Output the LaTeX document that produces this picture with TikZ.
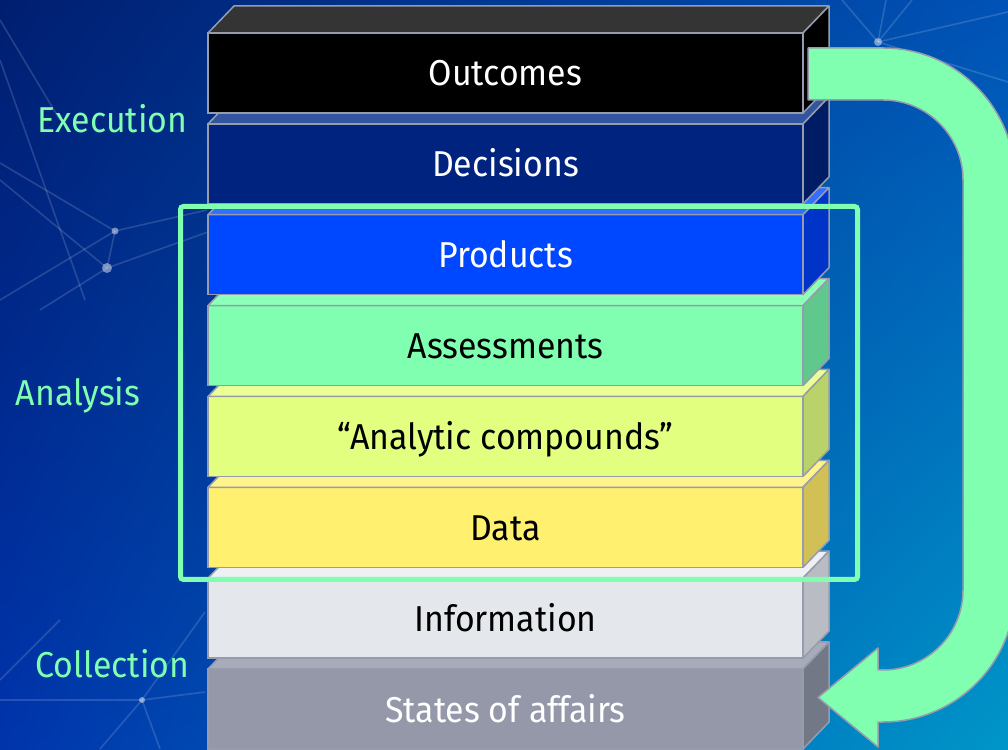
\documentclass[tikz,border=0pt]{standalone}
\usepackage{fontspec}
\usetikzlibrary{shadings}
\setmainfont{Fira Sans}[FakeStretch=0.94]
\definecolor{bgUL}{RGB}{0,30,112}
\definecolor{bgUR}{RGB}{0,82,182}
\definecolor{bgLL}{RGB}{0,52,172}
\definecolor{bgLR}{RGB}{0,150,200}
\definecolor{mint}{RGB}{128,255,176}
\definecolor{edgegrey}{RGB}{150,156,172}
\definecolor{outF}{RGB}{0,0,0}\definecolor{outT}{RGB}{52,52,52}\definecolor{outS}{RGB}{0,0,0}
\definecolor{decF}{RGB}{0,35,127}\definecolor{decT}{RGB}{50,85,160}\definecolor{decS}{RGB}{0,28,100}
\definecolor{proF}{RGB}{0,72,255}\definecolor{proT}{RGB}{50,110,255}\definecolor{proS}{RGB}{0,52,200}
\definecolor{assF}{RGB}{128,255,176}\definecolor{assT}{RGB}{140,255,185}\definecolor{assS}{RGB}{96,200,140}
\definecolor{anaF}{RGB}{226,255,128}\definecolor{anaT}{RGB}{234,255,150}\definecolor{anaS}{RGB}{185,210,105}
\definecolor{datF}{RGB}{255,240,112}\definecolor{datT}{RGB}{255,244,140}\definecolor{datS}{RGB}{208,192,85}
\definecolor{infF}{RGB}{228,231,236}\definecolor{infT}{RGB}{238,240,243}\definecolor{infS}{RGB}{185,188,195}
\definecolor{staF}{RGB}{148,152,168}\definecolor{staT}{RGB}{168,172,186}\definecolor{staS}{RGB}{115,120,135}
\tikzset{
  blockfront/.style={draw=edgegrey, line width=1.5pt, minimum width=595pt, minimum height=80pt,
    inner sep=0pt, outer sep=0pt, text height=26pt, text depth=0pt, font=\fontsize{36}{40}\selectfont},
  blockedge/.style={draw=edgegrey, line width=1.5pt, line join=round},
  sidelabel/.style={text=mint, anchor=base, font=\fontsize{36}{40}\selectfont, inner sep=0pt},
  netline/.style={draw=white, opacity=0.15, line width=1.6pt},
  netdot/.style={fill=white, opacity=0.45},
  analysisframe/.style={draw=mint, line width=5pt, rounded corners=3pt},
  bigarrow/.style={fill=mint, draw=edgegrey, line width=1.5pt, line join=round}
}
\newcommand\stackblock[7]{%
  \node[blockfront, fill=#3, text=#6] (#1) at (505.5,#2+40) {#7};
  \filldraw[blockedge, fill=#4] (#1.north west) -- ++(26,-27) -- ++(595,0) -- (#1.north east) -- cycle;
  \filldraw[blockedge, fill=#5] (#1.north east) -- ++(26,-27) -- ++(0,80) -- (#1.south east) -- cycle;
}
\begin{document}
\begin{tikzpicture}[x=1pt,y=1pt]
\useasboundingbox (0,0) rectangle (1008,749);
\shade[upper left=bgUL, upper right=bgUR, lower left=bgLL, lower right=bgLR] (0,0) rectangle (1008,749);
\begin{scope}[shift={(0,749)}, yscale=-1]
  % faint network
  \coordinate (na) at (878,42);
  \coordinate (nb) at (115,231);
  \coordinate (nc) at (107,268);
  \coordinate (nd) at (142,700);
  \draw[netline] (na) -- (842,0);
  \draw[netline] (na) -- (886,0);
  \draw[netline] (na) -- (912,0);
  \draw[netline] (na) -- (1008,12);
  \draw[netline] (na) -- (1008,82);
  \draw[netline] (0,163) -- (nb) -- (207,210);
  \draw[netline] (0,180) -- (nc) -- (208,232);
  \draw[netline] (0,60) -- (85,300);
  \draw[netline] (nb) -- (nc) -- (40,310);
  \draw[netline] (nb) -- (0,300);
  \draw[netline] (0,20) -- (60,120);
  \draw[netline] (205,612) -- (nd) -- (100,749);
  \draw[netline] (0,700) -- (nd) -- (205,692);
  \draw[netline] (nd) -- (160,749);
  \draw[netline] (60,620) -- (0,680);
  \fill[netdot] (na) circle (4);
  \fill[netdot] (nb) circle (3.5);
  \fill[netdot] (nc) circle (5);
  \fill[netdot] (nd) circle (3);
  % stack of blocks, bottom to top
  \stackblock{states}{669}{staF}{staT}{staS}{white}{States of affairs}
  \stackblock{information}{578.1}{infF}{infT}{infS}{black}{Information}
  \stackblock{data}{487.3}{datF}{datT}{datS}{black}{Data}
  \stackblock{compounds}{396.4}{anaF}{anaT}{anaS}{black}{“Analytic compounds”}
  \stackblock{assessments}{305.6}{assF}{assT}{assS}{black}{Assessments}
  \stackblock{products}{214.7}{proF}{proT}{proS}{white}{Products}
  \stackblock{decisions}{123.9}{decF}{decT}{decS}{white}{Decisions}
  \stackblock{outcomes}{33}{outF}{outT}{outS}{white}{Outcomes}
  % analysis frame
  \draw[analysisframe] (180.5,206.5) rectangle (857.5,579.5);
  % side labels
  \node[sidelabel] (execution) at (112.5,133) {Execution};
  \node[sidelabel] (analysis) at (78,406) {Analysis};
  \node[sidelabel] (collection) at (112.5,677) {Collection};
  % big return arrow
  \filldraw[bigarrow] (808,48) -- (883,48)
    arc[start angle=270, end angle=360, radius=132]
    -- (1015,590)
    arc[start angle=0, end angle=90, radius=132]
    -- (878,722) -- (878,747) -- (818,697.5) -- (878,648) -- (878,670) -- (883,670)
    arc[start angle=90, end angle=0, radius=80]
    -- (963,180)
    arc[start angle=360, end angle=270, radius=80]
    -- (808,100) -- cycle;
\end{scope}
\end{tikzpicture}
\end{document}
